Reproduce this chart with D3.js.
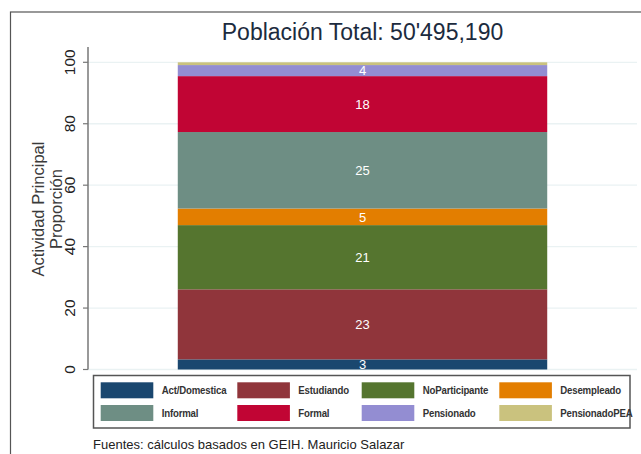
<!DOCTYPE html>
<html><head><meta charset="utf-8">
<script src="https://cdn.jsdelivr.net/npm/d3@7"></script>
<style>body{margin:0;background:#fff;}svg{display:block;font-family:"Liberation Sans",Arial,sans-serif;}</style>
</head><body>
<svg id="c" width="641" height="454"></svg>
<script>
const categories = ["Act/Domestica","Estudiando","NoParticipante","Desempleado","Informal","Formal","Pensionado","PensionadoPEA"];
const values = [3.3, 22.8, 20.9, 5.4, 24.9, 18.2, 3.6, 0.9];
const colors = ["#1a476f","#90353b","#55752f","#e37e00","#6e8e84","#c10534","#938dd2","#cac27e"];
const yTicks = [0,20,40,60,80,100];
const title = "Población Total: 50'495,190";
const yTitle = ["Actividad Principal","Proporción"];
const note = "Fuentes: cálculos basados en GEIH. Mauricio Salazar";

const svg = d3.select("#c");
// outer frame
svg.append("rect").attr("x",10.5).attr("y",12).attr("width",660).attr("height",480)
  .attr("fill","none").attr("stroke","#555").attr("stroke-width",1.2);

const plotL = 88, plotR = 637;
const y = d3.scaleLinear().domain([0,100]).range([369.5,62.3]);
const x = d3.scaleBand().domain(["all"]).range([plotL, plotR]).paddingInner(0).paddingOuter(0.243);

// gridlines
svg.append("g").selectAll("line").data(yTicks).join("line")
  .attr("x1",plotL).attr("x2",plotR).attr("y1",d=>y(d)).attr("y2",d=>y(d))
  .attr("stroke","#eaf2f3").attr("stroke-width",1.3);

// stacked data
const stack = [];
let acc = 0;
values.forEach((v,i)=>{ stack.push({cat:categories[i], v, y0:acc, y1:acc+v, color:colors[i]}); acc+=v; });

svg.append("g").selectAll("rect").data(stack).join("rect")
  .attr("x",x("all")).attr("width",x.bandwidth())
  .attr("y",d=>y(d.y1)).attr("height",d=>y(d.y0)-y(d.y1))
  .attr("fill",d=>d.color);

svg.append("g").selectAll("text").data(stack.filter(d=>d.v>=2)).join("text")
  .attr("x",x("all")+x.bandwidth()/2).attr("y",d=>(y(d.y0)+y(d.y1))/2)
  .attr("dy","0.36em").attr("text-anchor","middle")
  .attr("fill","#fff").attr("font-size",13)
  .text(d=>d3.format(".0f")(d.v));

// y axis
const ax = svg.append("g").attr("transform",`translate(${plotL},0)`);
ax.append("line").attr("x1",0).attr("x2",0).attr("y1",47).attr("y2",y(0)).attr("stroke","#777").attr("stroke-width",1.5);
ax.selectAll("line.t").data(yTicks).join("line").attr("class","t")
  .attr("x1",-5).attr("x2",0).attr("y1",d=>y(d)).attr("y2",d=>y(d)).attr("stroke","#777").attr("stroke-width",1.2);
ax.selectAll("text").data(yTicks).join("text")
  .attr("transform",d=>`translate(-13,${y(d)}) rotate(-90)`)
  .attr("text-anchor","middle").attr("font-size",15.5).attr("fill","#222")
  .text(d=>d);

// y title
svg.append("text").attr("transform","translate(44,209) rotate(-90)").attr("text-anchor","middle")
  .attr("font-size",16.5).attr("fill","#3a3a3a").text(yTitle[0]);
svg.append("text").attr("transform","translate(62,209) rotate(-90)").attr("text-anchor","middle")
  .attr("font-size",16.5).attr("fill","#3a3a3a").text(yTitle[1]);

// title
svg.append("text").attr("x",(plotL+plotR)/2).attr("y",40).attr("text-anchor","middle")
  .attr("font-size",23).attr("fill","#1c2b3e").text(title);

// legend
const lg = svg.append("g");
lg.append("rect").attr("x",93.5).attr("y",375.5).attr("width",536.5).attr("height",52.5)
  .attr("fill","#fff").attr("stroke","#555").attr("stroke-width",1.5);
const colX = [100.7, 237.3, 361.7, 499.3];
const rowY = [382.3, 405];
categories.forEach((c,i)=>{
  const cx = colX[i%4], ry = rowY[Math.floor(i/4)];
  lg.append("rect").attr("x",cx).attr("y",ry).attr("width",52.6).attr("height",16).attr("fill",colors[i]);
  lg.append("text").attr("x",cx+61).attr("y",ry+8).attr("dy","0.35em")
    .attr("font-size",10.5).attr("fill","#333").attr("font-weight","bold").attr("letter-spacing","-0.2")
    .attr("transform",`translate(${(cx+61)*0.08},0) scale(0.92,1)`)
    .text(c);
});

// note
svg.append("text").attr("x",93).attr("y",449).attr("font-size",13).attr("fill","#222").text(note);
</script>
</body></html>
